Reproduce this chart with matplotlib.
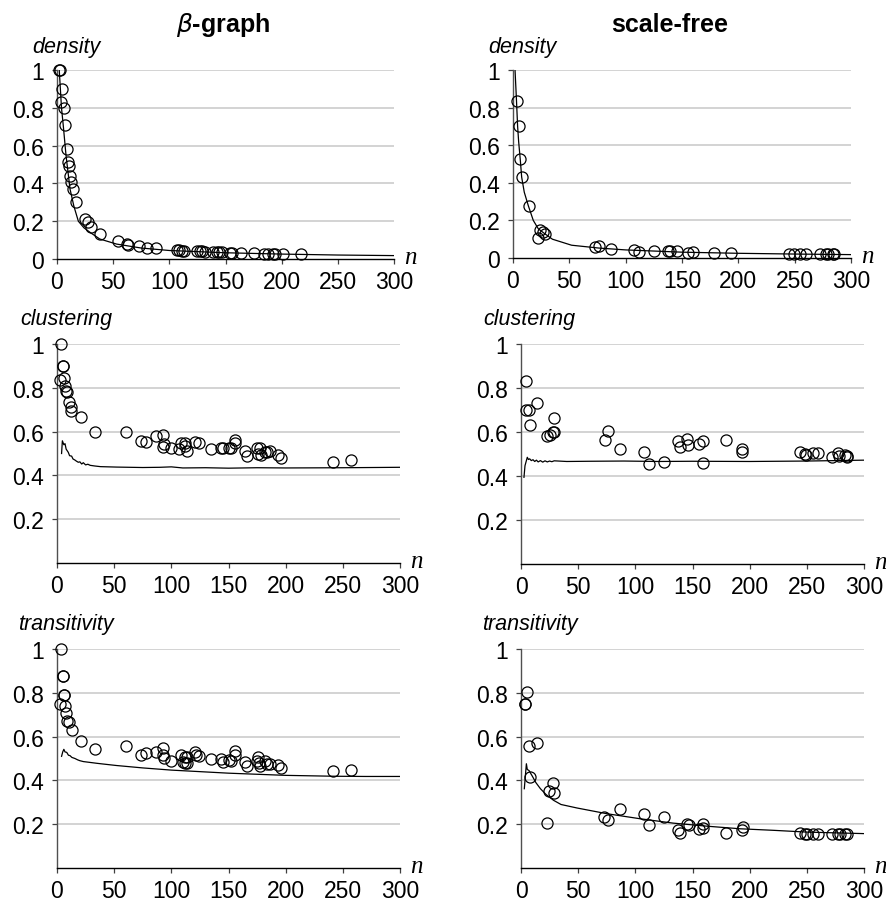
import matplotlib
matplotlib.use('Agg')
import matplotlib.pyplot as plt
from matplotlib.ticker import FuncFormatter

plt.rcParams['font.family'] = ['Liberation Sans', 'DejaVu Sans']

W, H = 887, 903

# ---- beta-graph column: sampled graphs (circles) and model curve (line)
beta_density_n = [2, 3, 4.4, 3.9, 6.5, 7.4, 8.9, 9.8, 11, 11.9, 12.7, 13.9, 17.2, 25.2, 27.3, 30.2,
                  38, 54, 62.3, 63, 73, 80, 88, 107, 109, 111, 113.5, 124.5, 127, 129, 132, 139,
                  142, 144, 147, 154, 156, 163.6, 175.5, 184, 188, 192, 194, 201.6, 217]
beta_density = [1.0, 1.0, 0.90, 0.832, 0.797, 0.709, 0.582, 0.511, 0.494, 0.441, 0.409, 0.370, 0.30,
                0.212, 0.194, 0.171, 0.132, 0.097, 0.078, 0.072, 0.070, 0.058, 0.056, 0.045, 0.045,
                0.044, 0.044, 0.041, 0.040, 0.040, 0.039, 0.037, 0.037, 0.036, 0.036, 0.034, 0.034,
                0.033, 0.030, 0.028, 0.028, 0.028, 0.027, 0.027, 0.025]
beta_density_line_n = [2, 3, 4, 5.6, 8, 11.6, 15, 19, 24, 29.4, 38, 53, 75, 100, 150, 200, 250, 300]
beta_density_line = [1.0, 0.9, 0.8, 0.705, 0.55, 0.37, 0.28, 0.2, 0.165, 0.141, 0.106, 0.079,
                     0.058, 0.045, 0.033, 0.026, 0.021, 0.018]

beta_clust_n = [3.8, 5, 5, 2.9, 5.8, 6.7, 7.9, 8.7, 10.8, 12.5, 12.5, 21, 32.9, 60.6, 73.4, 77.8,
                86.5, 92.3, 92.3, 94, 100, 107, 108.6, 111.6, 112.1, 114, 121, 124.4, 135, 143.3,
                145.6, 150, 152, 155.3, 155.3, 164, 166, 174.8, 175.6, 177.7, 178.5, 181.5, 183.5,
                186.4, 193, 196, 241, 257]
beta_clust = [1.0, 0.90, 0.90, 0.837, 0.843, 0.81, 0.787, 0.782, 0.734, 0.711, 0.696, 0.668, 0.597,
              0.597, 0.556, 0.551, 0.578, 0.584, 0.528, 0.542, 0.527, 0.521, 0.548, 0.548, 0.536,
              0.513, 0.554, 0.548, 0.521, 0.527, 0.527, 0.527, 0.527, 0.562, 0.548, 0.51, 0.487,
              0.524, 0.499, 0.524, 0.495, 0.505, 0.505, 0.51, 0.493, 0.479, 0.463, 0.472]
beta_clust_line_n = [4, 4.7, 6, 7, 8, 9.9, 11, 12.8, 14, 15.7, 17, 18.6, 20, 21.6, 23, 25, 27, 29,
                     33, 38, 52, 75, 90, 100, 110, 130, 150, 175, 200, 250, 300]
beta_clust_line = [0.50, 0.558, 0.54, 0.545, 0.52, 0.505, 0.49, 0.488, 0.475, 0.47, 0.465, 0.46,
                   0.462, 0.452, 0.458, 0.448, 0.451, 0.446, 0.443, 0.44, 0.438, 0.436, 0.437,
                   0.439, 0.434, 0.435, 0.433, 0.435, 0.434, 0.435, 0.437]

beta_trans_n = [3.8, 5, 5, 5.8, 5.8, 2.9, 6.7, 8.2, 8.7, 10.8, 13.1, 21, 32.9, 60.6, 73.4, 77.8,
                86.5, 92.3, 92.3, 94, 100, 108.6, 109.8, 111.6, 112.1, 113.6, 114, 121, 122, 124.4,
                135, 143.3, 145, 150, 152, 155.3, 155.3, 164, 166, 174.8, 176.2, 176.8, 177.7,
                181.5, 183.5, 186.4, 193, 196, 241, 257]
beta_trans = [1.0, 0.875, 0.875, 0.79, 0.79, 0.749, 0.739, 0.707, 0.673, 0.666, 0.631, 0.582,
              0.544, 0.559, 0.517, 0.526, 0.529, 0.549, 0.514, 0.502, 0.488, 0.517, 0.483, 0.508,
              0.480, 0.508, 0.480, 0.529, 0.514, 0.511, 0.498, 0.498, 0.483, 0.494, 0.488, 0.533,
              0.514, 0.483, 0.468, 0.488, 0.506, 0.479, 0.468, 0.488, 0.476, 0.476, 0.471, 0.457,
              0.441, 0.448]
beta_trans_line_n = [4, 5, 6, 7, 8.5, 10, 11.4, 13, 15.7, 18, 20, 23, 26, 29, 35, 40, 52, 75, 100,
                     125, 150, 175, 200, 242, 270, 300]
beta_trans_line = [0.51, 0.53, 0.542, 0.53, 0.528, 0.515, 0.513, 0.505, 0.5, 0.494, 0.49, 0.486,
                   0.484, 0.482, 0.478, 0.475, 0.468, 0.457, 0.447, 0.44, 0.433, 0.428, 0.423,
                   0.419, 0.418, 0.418]

# ---- scale-free column
sf_density_n = [3.85, 5, 6.5, 8, 14.2, 22.5, 24.3, 26.7, 28.5, 73.2, 76.2, 86.9, 107.6, 112, 125,
                138, 139.3, 146, 155.6, 160, 178.8, 193.6, 244.6, 249, 255, 260, 272.8, 278, 280,
                284, 285]
sf_density = [0.837, 0.704, 0.524, 0.43, 0.276, 0.106, 0.15, 0.138, 0.129, 0.058, 0.064, 0.046,
              0.041, 0.032, 0.035, 0.037, 0.035, 0.037, 0.028, 0.032, 0.028, 0.028, 0.023, 0.023,
              0.023, 0.023, 0.023, 0.023, 0.023, 0.023, 0.023]
sf_density_line_n = [1.8, 3, 4.1, 5, 6.5, 7.7, 10, 13.6, 18, 22.5, 28, 35, 52, 76, 100, 150, 200,
                     250, 300]
sf_density_line = [1.0, 0.85, 0.70, 0.62, 0.52, 0.43, 0.35, 0.278, 0.2, 0.155, 0.13, 0.1, 0.068,
                   0.053, 0.043, 0.031, 0.025, 0.021, 0.018]

sf_clust_n = [4.4, 4.4, 7.3, 8.2, 14, 22.7, 25, 27.7, 28.5, 28.5, 73.7, 76, 86.8, 108, 112, 125,
              137, 139, 145, 146.5, 156, 159.6, 159.6, 179, 193, 193.7, 244, 248.5, 249.3, 255,
              260, 272, 277.6, 278.5, 283.4, 285, 285.5]
sf_clust = [0.833, 0.70, 0.70, 0.632, 0.73, 0.583, 0.588, 0.598, 0.662, 0.602, 0.565, 0.606,
            0.523, 0.508, 0.455, 0.462, 0.561, 0.53, 0.568, 0.542, 0.545, 0.561, 0.459, 0.565,
            0.523, 0.508, 0.511, 0.50, 0.497, 0.505, 0.503, 0.488, 0.505, 0.492, 0.497, 0.492,
            0.488]
sf_clust_line_n = [2.6, 3.5, 5.5, 6.5, 7.6, 9, 10.5, 12, 13.5, 15, 17, 19, 21, 23, 25, 27, 29, 40,
                   60, 90, 120, 150, 200, 250, 300]
sf_clust_line = [0.394, 0.447, 0.485, 0.475, 0.478, 0.47, 0.474, 0.466, 0.472, 0.464, 0.47, 0.463,
                 0.469, 0.464, 0.468, 0.465, 0.469, 0.466, 0.467, 0.468, 0.466, 0.467, 0.466,
                 0.468, 0.472]

sf_trans_n = [5, 3.8, 3.8, 6.7, 14, 8.2, 22.7, 24.2, 28, 28.5, 73, 76, 86.8, 108, 112, 125, 137,
              139, 145, 147, 156, 159.6, 159.6, 179, 193, 194, 244, 248.5, 250, 255, 260, 272,
              277.6, 279, 283.4, 285]
sf_trans = [0.802, 0.749, 0.749, 0.556, 0.571, 0.415, 0.205, 0.35, 0.389, 0.344, 0.233, 0.22,
            0.271, 0.248, 0.198, 0.233, 0.175, 0.16, 0.202, 0.198, 0.179, 0.202, 0.182, 0.161,
            0.172, 0.188, 0.16, 0.157, 0.157, 0.153, 0.153, 0.157, 0.153, 0.153, 0.153, 0.153]
sf_trans_line_n = [2.9, 4.7, 5.5, 7, 9.6, 13, 17, 22, 28.5, 35, 49, 75, 104, 133, 162.5, 192, 221,
                   250, 300]
sf_trans_line = [0.362, 0.476, 0.45, 0.445, 0.422, 0.39, 0.362, 0.335, 0.309, 0.29, 0.274, 0.248,
                 0.225, 0.205, 0.191, 0.179, 0.172, 0.164, 0.157]

x_ticks = [0, 50, 100, 150, 200, 250, 300]
y_ticks_top = [0, 0.2, 0.4, 0.6, 0.8, 1]
y_ticks_rest = [0.2, 0.4, 0.6, 0.8, 1]


def px_rect(left, top, right, bottom):
  return [left / W, 1 - bottom / H, (right - left) / W, (bottom - top) / H]


def draw_panel(ax, pts_n, pts_y, line_n, line_y, yticks):
  ax.set_xlim(0, 300)
  ax.set_ylim(0, 1)
  for y in yticks:
    if y > 0:
      ax.axhline(y, color='#c8c8c8', lw=1.1, zorder=0)
  ax.plot(line_n, line_y, color='black', lw=0.9, zorder=2)
  ax.plot(pts_n, pts_y, 'o', ms=8, mfc='none', mec='black', mew=0.9, zorder=3, clip_on=False)
  ax.set_xticks(x_ticks)
  ax.set_yticks(yticks)
  ax.yaxis.set_major_formatter(FuncFormatter(lambda v, p: '%g' % v))
  ax.tick_params(axis='both', direction='out', length=3.6, width=0.9, labelsize=16.5,
                 colors='#404040', labelcolor='black')
  ax.tick_params(axis='y', pad=6)
  ax.tick_params(axis='x', pad=4)
  for s in ['top', 'right']:
    ax.spines[s].set_visible(False)
  ax.spines['left'].set_color('#505050')
  ax.spines['bottom'].set_color('black')
  ax.spines['left'].set_linewidth(1.0)
  ax.spines['bottom'].set_linewidth(1.0)
  ax.text(1.03, 0.01, 'n', transform=ax.transAxes, ha='left', va='center',
          fontsize=18, style='italic', family='Liberation Serif')


fig = plt.figure(figsize=(W / 100, H / 100), dpi=100)

panels = [
  (px_rect(57, 71, 394, 260), beta_density_n, beta_density, beta_density_line_n, beta_density_line, y_ticks_top),
  (px_rect(513, 71, 851, 259), sf_density_n, sf_density, sf_density_line_n, sf_density_line, y_ticks_top),
  (px_rect(57, 345, 400, 564), beta_clust_n, beta_clust, beta_clust_line_n, beta_clust_line, y_ticks_rest),
  (px_rect(521, 345, 864, 565), sf_clust_n, sf_clust, sf_clust_line_n, sf_clust_line, y_ticks_rest),
  (px_rect(57, 650, 400, 869), beta_trans_n, beta_trans, beta_trans_line_n, beta_trans_line, y_ticks_rest),
  (px_rect(521, 650, 864, 869), sf_trans_n, sf_trans, sf_trans_line_n, sf_trans_line, y_ticks_rest),
]
for rect, pn, py, ln, ly, yt in panels:
  ax = fig.add_axes(rect)
  draw_panel(ax, pn, py, ln, ly, yt)

# column titles
fig.text(223 / W, 1 - 25 / H, r'$\beta$-graph', ha='center', va='center', fontsize=18, weight='bold')
fig.text(670 / W, 1 - 25 / H, 'scale-free', ha='center', va='center', fontsize=18, weight='bold')

# metric labels above each y axis
labels = [(32, 48, 'density'), (488, 48, 'density'),
          (20, 320, 'clustering'), (483, 320, 'clustering'),
          (18, 625, 'transitivity'), (482, 625, 'transitivity')]
for x, y, txt in labels:
  fig.text(x / W, 1 - y / H, txt, ha='left', va='center', fontsize=15.5, style='italic')

plt.savefig('out.png', dpi=100)
